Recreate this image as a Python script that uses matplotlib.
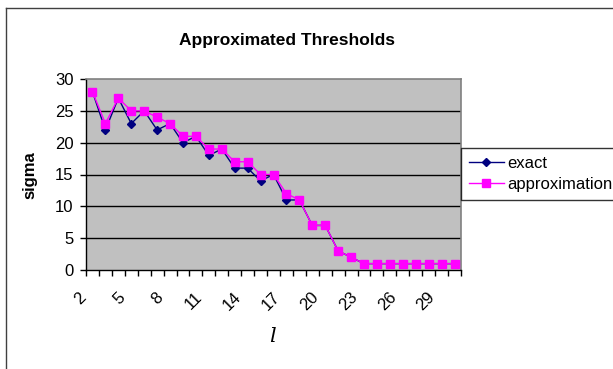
import matplotlib
matplotlib.use("Agg")
import matplotlib.pyplot as plt
from matplotlib.lines import Line2D
from matplotlib.transforms import ScaledTranslation

plt.rcParams['font.family'] = ['Liberation Sans', 'DejaVu Sans']

l_values = list(range(2, 31))
exact = [28, 22, 27, 23, 25, 22, 23, 20, 21, 18, 19, 16, 16, 14, 15,
         11, 11, 7, 7, 3, 2, 1, 1, 1, 1, 1, 1, 1, 1]
approximation = [28, 23, 27, 25, 25, 24, 23, 21, 21, 19, 19, 17, 17, 15, 15,
                 12, 11, 7, 7, 3, 2, 1, 1, 1, 1, 1, 1, 1, 1]
y_ticks = [0, 5, 10, 15, 20, 25, 30]
x_label_step = 3

W, H = 613, 369
fig = plt.figure(figsize=(W / 100, H / 100), dpi=100)
fig.patch.set_facecolor('white')

ax = fig.add_axes([86 / W, 1 - 270 / H, 375 / W, 191 / H])
ax.set_facecolor('#C0C0C0')

idx = list(range(len(l_values)))
ax.plot(idx, exact, color='#000080', marker='D', markersize=4.5, lw=1.0,
        label='exact', zorder=3)
ax.plot(idx, approximation, color='#FF00FF', marker='s', markersize=5.5, lw=1.0,
        label='approximation', zorder=4)

ax.set_xlim(-0.5, len(l_values) - 0.5)
ax.set_ylim(0, 30)

ax.set_yticks(y_ticks)
ax.set_yticklabels([str(v) for v in y_ticks], fontsize=12, color='black')
for v in y_ticks[1:-1]:
    ax.axhline(v, color='black', lw=1.0, zorder=1)

# category boundary ticks (no labels)
ax.set_xticks([i - 0.5 for i in range(len(l_values) + 1)], minor=False)
ax.set_xticklabels([])
ax.set_xticks([i for i in idx if i % x_label_step == 0], minor=True)
ax.set_xticklabels([str(l_values[i]) for i in idx if i % x_label_step == 0],
                   minor=True, rotation=45, ha='right', va='center',
                   rotation_mode='anchor', fontsize=12)
ax.tick_params(axis='x', which='major', direction='out', length=4, width=1, color='black')
ax.tick_params(axis='x', which='minor', length=0, pad=0)
offset = ScaledTranslation(-9 / 100, -25 / 100, fig.dpi_scale_trans)
for lab in ax.get_xticklabels(minor=True):
    lab.set_transform(lab.get_transform() + offset)
ax.tick_params(axis='y', direction='out', length=4, width=1, color='black', pad=5)

for s in ['left', 'bottom']:
    ax.spines[s].set_color('black')
    ax.spines[s].set_linewidth(1.0)
for s in ['top', 'right']:
    ax.spines[s].set_color('#808080')
    ax.spines[s].set_linewidth(1.2)

fig.text(272 / W, 1 - 337 / H, 'l', fontsize=15, fontstyle='italic',
         ha='center', va='center', family='DejaVu Serif')
fig.text(30 / W, 1 - 175 / H, 'sigma', fontsize=12, fontweight='bold',
         rotation=90, ha='center', va='center')
fig.text(287 / W, 1 - 40 / H, 'Approximated Thresholds', fontsize=12.5,
         fontweight='bold', ha='center', va='center')

# chart border (left and top visible)
fig.add_artist(Line2D([6 / W, 6 / W], [0, 1 - 8 / H], transform=fig.transFigure,
                      color='#404040', lw=1))
fig.add_artist(Line2D([6 / W, 1], [1 - 8 / H, 1 - 8 / H], transform=fig.transFigure,
                      color='#404040', lw=1))

leg = fig.legend(loc='upper left', bbox_to_anchor=(461 / W, 1 - 148 / H),
                 fontsize=12, frameon=True, fancybox=False, edgecolor='black',
                 borderaxespad=0, handlelength=2.1, borderpad=0.45,
                 labelspacing=0.4, handletextpad=0.2)
leg.get_frame().set_linewidth(1.0)

fig.savefig('out.png', dpi=100)
